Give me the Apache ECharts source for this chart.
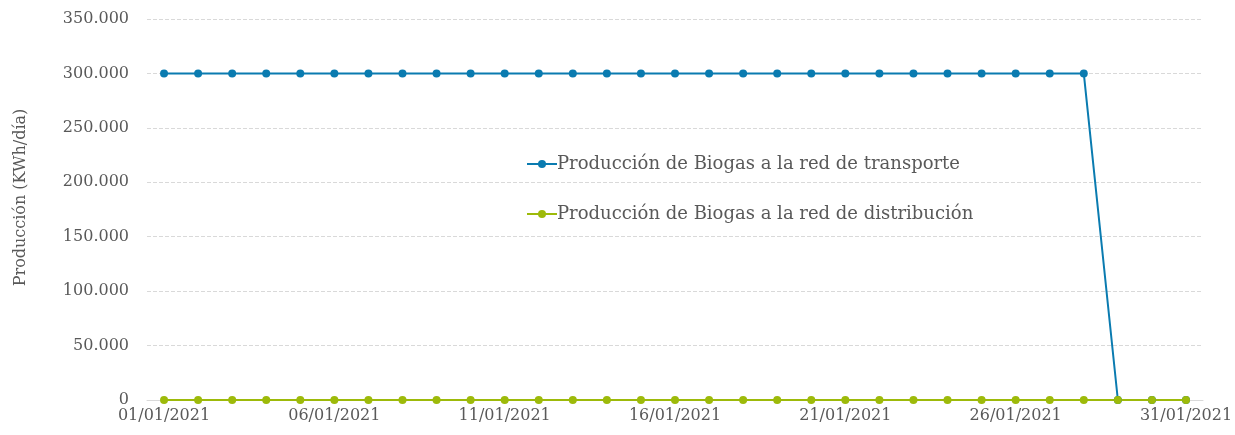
<!DOCTYPE html>
<html>
<head>
<meta charset="utf-8">
<script src="https://cdn.jsdelivr.net/npm/echarts@6/dist/echarts.min.js"></script>
<style>
  html, body { margin: 0; padding: 0; background: #fff; }
  #chart { width: 1235px; height: 435px; }
</style>
</head>
<body>
<div id="chart"></div>
<script>
(function () {

  // dias de enero 2021
  var days = [];
  for (var d = 1; d <= 31; d++) {
    days.push((d < 10 ? '0' + d : '' + d) + '/01/2021');
  }

  var transporte = [
    300000, 300000, 300000, 300000, 300000, 300000, 300000, 300000, 300000, 300000,
    300000, 300000, 300000, 300000, 300000, 300000, 300000, 300000, 300000, 300000,
    300000, 300000, 300000, 300000, 300000, 300000, 300000, 300000, 0, 0, 0
  ];
  var distribucion = [
    0, 0, 0, 0, 0, 0, 0, 0, 0, 0,
    0, 0, 0, 0, 0, 0, 0, 0, 0, 0,
    0, 0, 0, 0, 0, 0, 0, 0, 0, 0, 0
  ];

  var font = 'DejaVu Serif';
  var textColor = '#595959';

  function fmt(v) {
    return String(v).replace(/\B(?=(\d{3})+(?!\d))/g, '.');
  }

  var myChart = echarts.init(document.getElementById('chart'));
  var option = {
    animation: false,
    textStyle: { fontFamily: font, color: textColor },
    grid: { left: 147, right: 26, top: 19, bottom: 35 },
    legend: {
      orient: 'vertical',
      left: 521,
      top: 150,
      itemGap: 32,
      itemWidth: 30,
      itemHeight: 10,
      textStyle: { fontFamily: font, fontSize: 18, color: textColor, padding: [0, 0, 0, -5] },
      data: [
        'Producción de Biogas a la red de transporte',
        'Producción de Biogas a la red de distribución'
      ]
    },
    xAxis: {
      type: 'category',
      data: days,
      boundaryGap: true,
      axisLine: { show: true, lineStyle: { color: '#d9d9d9' } },
      axisTick: { show: false },
      axisLabel: {
        interval: 4,
        color: textColor,
        fontFamily: font,
        fontSize: 16,
        margin: 8
      }
    },
    yAxis: {
      type: 'value',
      min: 0,
      max: 350000,
      interval: 50000,
      name: 'Producción (KWh/día)',
      nameLocation: 'middle',
      nameGap: 118,
      nameTextStyle: { fontFamily: font, fontSize: 16, color: textColor, padding: [0, 0, 0, 24] },
      axisLine: { show: false },
      axisTick: { show: false },
      axisLabel: {
        color: textColor,
        fontFamily: font,
        fontSize: 16,
        margin: 18,
        formatter: fmt
      },
      splitLine: { lineStyle: { color: '#d9d9d9', type: 'dashed' } }
    },
    series: [
      {
        name: 'Producción de Biogas a la red de transporte',
        type: 'line',
        data: transporte,
        symbol: 'circle',
        symbolSize: 8,
        itemStyle: { color: '#0a7bb0' },
        lineStyle: { color: '#0a7bb0', width: 2 }
      },
      {
        name: 'Producción de Biogas a la red de distribución',
        type: 'line',
        data: distribucion,
        symbol: 'circle',
        symbolSize: 8,
        itemStyle: { color: '#9dba0a' },
        lineStyle: { color: '#9dba0a', width: 2 }
      }
    ]
  };

  myChart.setOption(option);
})();
</script>
</body>
</html>
